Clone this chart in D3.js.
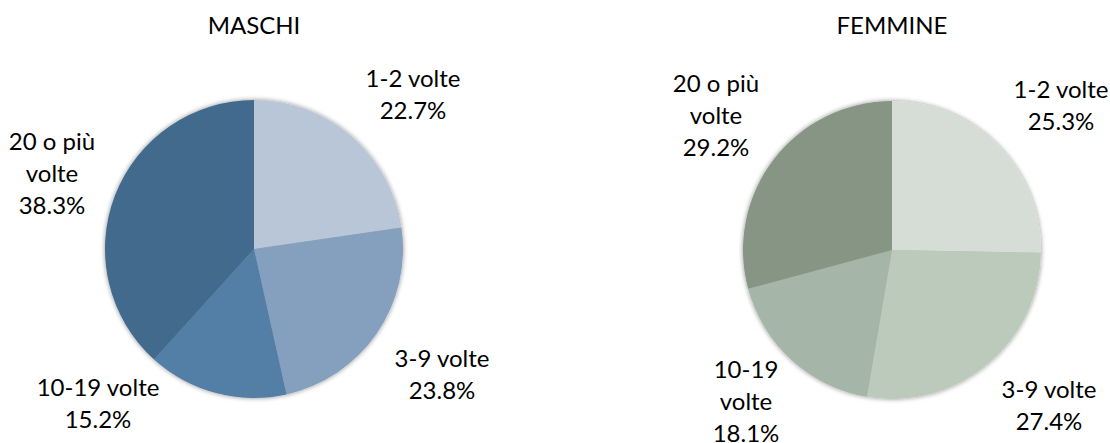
<!DOCTYPE html>
<html>
<head>
<meta charset="utf-8">
<script src="https://cdn.jsdelivr.net/npm/d3@7"></script>
<style>
  html, body { margin: 0; padding: 0; background: #ffffff; }
  svg { display: block; }
</style>
</head>
<body>
<svg id="chart" width="1110" height="443"></svg>
<script>
// ---- data ----
const categories = ["1-2 volte", "3-9 volte", "10-19 volte", "20 o più volte"];
const maschiValues = [22.7, 23.8, 15.2, 38.3];
const femmineValues = [25.3, 27.4, 18.1, 29.2];
const chartTitles = ["MASCHI", "FEMMINE"];
const maschiLabelLines = [["1-2 volte"], ["3-9 volte"], ["10-19 volte"], ["20 o più", "volte"]];
const femmineLabelLines = [["1-2 volte"], ["3-9 volte"], ["10-19", "volte"], ["20 o più", "volte"]];

// ---- styles / layout ----
const maschiColors = ["#b8c6d8", "#84a0be", "#527ea5", "#436a8c"];
const femmineColors = ["#d6ddd6", "#bccabc", "#a5b5a7", "#879585"];
const pies = [
  { title: chartTitles[0], values: maschiValues, lines: maschiLabelLines, colors: maschiColors,
    cx: 254, cy: 249, r: 149,
    labelOffsets: [[159, -162], [188, 118], [-156, 147], [-202, -99]] },
  { title: chartTitles[1], values: femmineValues, lines: femmineLabelLines, colors: femmineColors,
    cx: 892, cy: 250, r: 149,
    labelOffsets: [[169, -152], [157, 148], [-146, 128], [-176, -158]] }
];
const fontFamily = "Lato, 'Open Sans', sans-serif";
const fontSize = 24;
const lineHeight = 32;

const svg = d3.select("#chart");
const defs = svg.append("defs");
const f = defs.append("filter").attr("id", "shadow")
  .attr("x", "-20%").attr("y", "-20%").attr("width", "140%").attr("height", "140%");
f.append("feGaussianBlur").attr("in", "SourceAlpha").attr("stdDeviation", 2.5).attr("result", "blur");
f.append("feOffset").attr("in", "blur").attr("dx", 0).attr("dy", 0).attr("result", "off");
f.append("feComponentTransfer").attr("in", "off").attr("result", "sh")
  .append("feFuncA").attr("type", "linear").attr("slope", 0.45);
const fm = f.append("feMerge");
fm.append("feMergeNode").attr("in", "sh");
fm.append("feMergeNode").attr("in", "SourceGraphic");

const pieLayout = d3.pie().sort(null).value(d => d);

pies.forEach(p => {
  const g = svg.append("g").attr("transform", `translate(${p.cx},${p.cy})`);
  const arc = d3.arc().innerRadius(0).outerRadius(p.r);
  const color = d3.scaleOrdinal().domain(categories).range(p.colors);
  const arcs = pieLayout(p.values);

  const sg = g.append("g").attr("filter", "url(#shadow)");
  sg.selectAll("path").data(arcs).enter().append("path")
    .attr("d", arc)
    .attr("fill", (d, i) => color(categories[i]))
    .attr("stroke", "none");

  // title
  svg.append("text")
    .attr("x", p.cx).attr("y", 34)
    .attr("text-anchor", "middle")
    .attr("font-family", fontFamily).attr("font-size", fontSize)
    .attr("fill", "#000")
    .text(p.title);

  // labels
  arcs.forEach((d, i) => {
    const lines = p.lines[i].concat([d3.format(".1f")(p.values[i]) + "%"]);
    const t = g.append("text")
      .attr("text-anchor", "middle")
      .attr("font-family", fontFamily).attr("font-size", fontSize)
      .attr("fill", "#000");
    lines.forEach((ln, k) => {
      t.append("tspan")
        .attr("x", p.labelOffsets[i][0])
        .attr("y", p.labelOffsets[i][1] + k * lineHeight)
        .text(ln);
    });
  });
});
</script>
</body>
</html>
